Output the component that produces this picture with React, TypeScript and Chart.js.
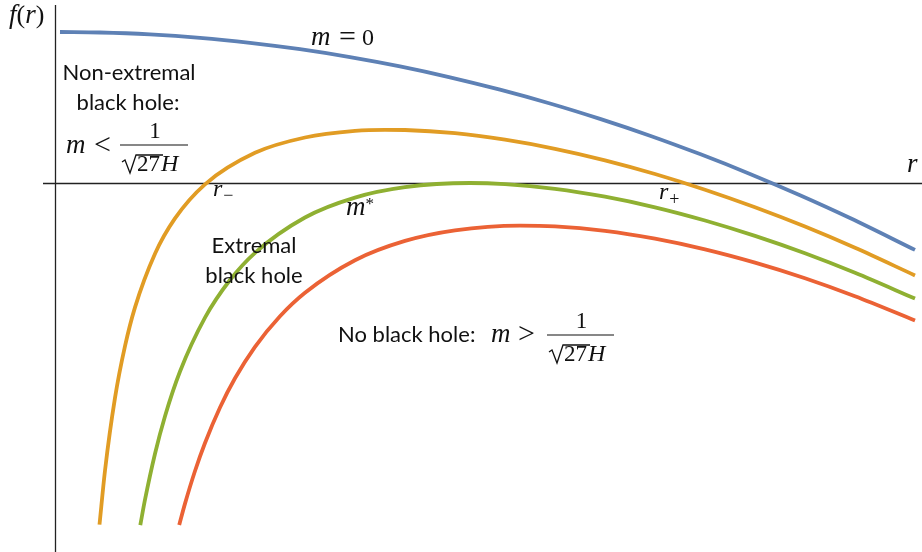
import React, { useEffect, useRef } from "react";
import { Chart, registerables } from "chart.js";

Chart.register(...registerables);

// r values and f(r) values (arbitrary units)
const blueR = [0.05, 0.45, 0.95, 1.45, 1.95, 2.45, 2.95, 3.45, 3.95, 4.45, 4.95, 5.45, 5.95, 6.45, 6.95, 7.45, 7.95, 8.6];
const blueF = [1.51, 1.505, 1.486, 1.452, 1.402, 1.338, 1.259, 1.166, 1.057, 0.933, 0.795, 0.641, 0.473, 0.289, 0.091, -0.122, -0.35, -0.669];

const orangeR = [0.445, 0.5, 0.6, 0.7, 0.8, 1.0, 1.2, 1.5, 2.0, 2.5, 3.0, 3.3, 3.5, 4.0, 4.5, 5.0, 5.5, 6.0, 6.5, 7.0, 7.5, 8.0, 8.6];
const orangeF = [-3.416, -2.876, -2.149, -1.632, -1.244, -0.707, -0.354, -0.013, 0.302, 0.455, 0.521, 0.532, 0.53, 0.498, 0.433, 0.342, 0.227, 0.09, -0.067, -0.243, -0.436, -0.648, -0.924];

const greenR = [0.853, 0.9, 1.0, 1.1, 1.25, 1.5, 1.75, 2.0, 2.5, 3.0, 3.5, 4.15, 4.5, 5.0, 5.5, 6.0, 6.5, 7.0, 7.5, 8.0, 8.6];
const greenF = [-3.421, -3.167, -2.707, -2.332, -1.885, -1.346, -0.97, -0.698, -0.345, -0.146, -0.042, 0.0, -0.011, -0.058, -0.137, -0.243, -0.375, -0.529, -0.703, -0.898, -1.156];

const redR = [1.242, 1.3, 1.4, 1.5, 1.65, 1.8, 2.0, 2.25, 2.5, 3.0, 3.5, 4.0, 4.65, 5.0, 5.5, 6.0, 6.5, 7.0, 7.5, 8.0, 8.6];
const redF = [-3.419, -3.206, -2.88, -2.6, -2.245, -1.953, -1.638, -1.332, -1.097, -0.772, -0.579, -0.473, -0.426, -0.434, -0.479, -0.557, -0.664, -0.797, -0.953, -1.133, -1.375];

const seriesColors = ["#5E81B5", "#E19C24", "#8FB032", "#EB6235"];

const R_MIN = -0.55;
const R_MAX = 8.67;
const F_MIN = -3.69;
const F_MAX = 1.83;

const SANS = '"Lato", "Open Sans", sans-serif';
const SERIF = '"Liberation Serif", "DejaVu Serif", serif';
const MI = `italic 24px ${SERIF}`;
const MM = `italic 27px ${SERIF}`;
const MR = `23px ${SERIF}`;
const REL = `30px ${SERIF}`;
const AXI = `italic 27px ${SERIF}`;
const AXR = `26px ${SERIF}`;
const TXT = `22px ${SANS}`;

function seq(ctx: CanvasRenderingContext2D, parts: [string, string][], x: number, y: number) {
  ctx.textAlign = "left";
  ctx.textBaseline = "alphabetic";
  let cx = x;
  for (const [s, f] of parts) {
    ctx.font = f;
    ctx.fillText(s, cx, y);
    cx += ctx.measureText(s).width;
  }
  return cx;
}

function text(ctx: CanvasRenderingContext2D, s: string, x: number, y: number, font: string, align: CanvasTextAlign = "left") {
  ctx.font = font;
  ctx.textAlign = align;
  ctx.textBaseline = "alphabetic";
  ctx.fillText(s, x, y);
}

// fraction 1 / (sqrt(27) H)
function fraction(ctx: CanvasRenderingContext2D, x0: number, x1: number, barY: number) {
  ctx.save();
  ctx.strokeStyle = "#111";
  ctx.lineWidth = 1.2;
  ctx.beginPath();
  ctx.moveTo(x0, barY);
  ctx.lineTo(x1, barY);
  ctx.stroke();
  text(ctx, "1", (x0 + x1) / 2 + 1, barY - 7, MR, "center");
  const top = barY + 10;
  const base = barY + 26;
  const rx = x0 + 2;
  ctx.lineWidth = 1.3;
  ctx.beginPath();
  ctx.moveTo(rx, base - 9);
  ctx.lineTo(rx + 3, base - 11);
  ctx.lineTo(rx + 8, base + 2);
  ctx.lineTo(rx + 14, top);
  ctx.lineTo(rx + 41, top);
  ctx.stroke();
  const end = seq(ctx, [["27", MR]], rx + 15, base);
  seq(ctx, [["H", MI]], end + 1, base);
  ctx.restore();
}

const overlay = {
  id: "overlay",
  beforeDatasetsDraw(chart: any) {
    const { ctx } = chart;
    const xs = chart.scales.x;
    const ys = chart.scales.y;
    ctx.save();
    ctx.strokeStyle = "#222";
    ctx.lineWidth = 1.3;
    ctx.beginPath();
    const x0 = Math.round(xs.getPixelForValue(0)) + 0.5;
    ctx.moveTo(x0, ys.getPixelForValue(1.78));
    ctx.lineTo(x0, ys.getPixelForValue(F_MIN));
    const y0 = Math.round(ys.getPixelForValue(0)) + 0.5;
    ctx.moveTo(xs.getPixelForValue(-0.12), y0);
    ctx.lineTo(xs.getPixelForValue(R_MAX), y0);
    ctx.stroke();
    ctx.restore();
  },
  afterDatasetsDraw(chart: any) {
    const { ctx } = chart;
    ctx.save();
    ctx.fillStyle = "#111";
    // axis labels
    seq(ctx, [["f", AXI], ["(", AXR], ["r", AXI], [")", AXR]], 9, 23);
    seq(ctx, [["r", AXI]], 907, 172);
    // curve labels
    seq(ctx, [["m", MM]], 311, 45);
    text(ctx, "=", 339, 46, REL);
    text(ctx, "0", 362, 45, `24px ${SERIF}`);
    let e = seq(ctx, [["r", MI]], 213, 196);
    seq(ctx, [["\u2212", `18px ${SERIF}`]], e + 1, 201);
    e = seq(ctx, [["r", MI]], 659, 199);
    seq(ctx, [["+", `18px ${SERIF}`]], e + 1, 205);
    e = seq(ctx, [["m", MM]], 346, 215);
    seq(ctx, [["*", `17px ${SERIF}`]], e, 209);
    // text annotations
    text(ctx, "Non-extremal", 129, 80, TXT, "center");
    text(ctx, "black hole:", 128, 110, TXT, "center");
    seq(ctx, [["m", MM]], 66, 153);
    text(ctx, "<", 94, 154, REL);
    fraction(ctx, 120, 188, 145);
    text(ctx, "Extremal", 254, 253, TXT, "center");
    text(ctx, "black hole", 254, 283, TXT, "center");
    text(ctx, "No black hole:", 338, 342, TXT, "left");
    seq(ctx, [["m", MM]], 491, 342);
    text(ctx, ">", 518, 343, REL);
    fraction(ctx, 547, 614, 335);
    ctx.restore();
  },
};

function pts(rs: number[], fs: number[]) {
  return rs.map((r, i) => ({ x: r, y: fs[i] }));
}

export default function App() {
  const ref = useRef<HTMLCanvasElement>(null);
  useEffect(() => {
    document.body.style.margin = "0";
    const series = [
      { label: "m = 0", data: pts(blueR, blueF) },
      { label: "m < 1/(√27 H)", data: pts(orangeR, orangeF) },
      { label: "m*", data: pts(greenR, greenF) },
      { label: "m > 1/(√27 H)", data: pts(redR, redF) },
    ];
    const chart = new Chart(ref.current as HTMLCanvasElement, {
      type: "line",
      data: {
        datasets: series.map((s, i) => ({
          label: s.label,
          data: s.data,
          borderColor: seriesColors[i],
          backgroundColor: seriesColors[i],
          borderWidth: 3.8,
          pointRadius: 0,
          fill: false,
          cubicInterpolationMode: "monotone" as const,
        })),
      },
      options: {
        animation: false,
        responsive: false,
        maintainAspectRatio: false,
        layout: { padding: 0 },
        plugins: { legend: { display: false }, tooltip: { enabled: false } },
        scales: {
          x: { type: "linear", min: R_MIN, max: R_MAX, display: false },
          y: { type: "linear", min: F_MIN, max: F_MAX, display: false },
        },
      },
      plugins: [overlay],
    });
    return () => chart.destroy();
  }, []);
  return (
    <div style={{ position: "absolute", left: 0, top: 0, width: 922, height: 552, background: "#fff" }}>
      <canvas ref={ref} width={922} height={552} style={{ display: "block" }} />
    </div>
  );
}
